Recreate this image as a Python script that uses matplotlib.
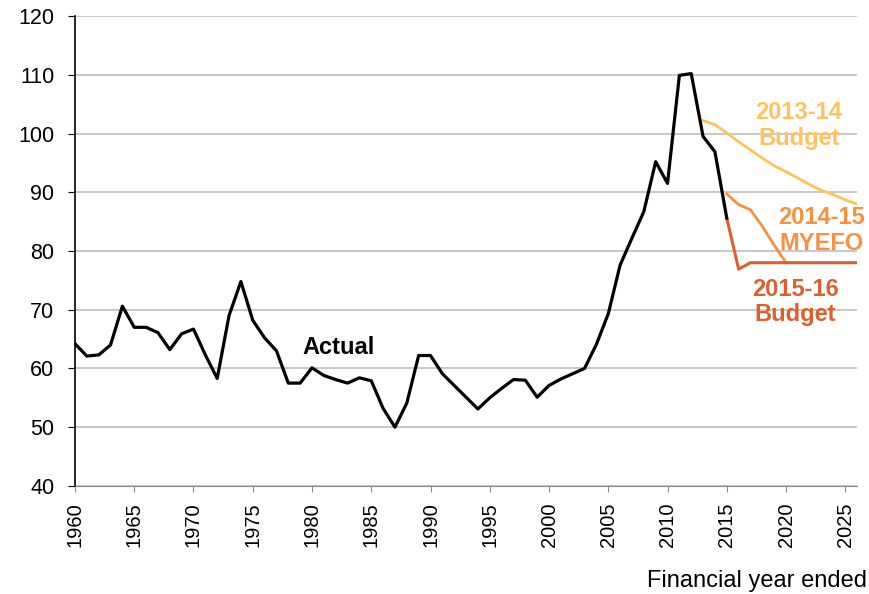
import matplotlib
matplotlib.use('Agg')
from matplotlib import pyplot as plt

plt.rcParams['font.family'] = ['Liberation Sans', 'DejaVu Sans']

# actual series, 1960-2015
actual_years = list(range(1960, 2016))
actual = [64.2, 62.1, 62.3, 64.0, 70.6, 67.0, 67.0, 66.1, 63.2, 65.9,
          66.7, 62.3, 58.3, 69.0, 74.8, 68.2, 65.2, 63.0, 57.5, 57.5,
          60.1, 58.8, 58.1, 57.5, 58.4, 57.9, 53.2, 50.0, 54.1, 62.2,
          62.2, 59.1, 57.1, 55.1, 53.1, 55.0, 56.6, 58.1, 58.0, 55.1,
          57.1, 58.2, 59.1, 60.0, 64.1, 69.3, 77.6, 82.2, 86.7, 95.2,
          91.5, 109.9, 110.2, 99.5, 96.9, 85.6]

budget_1314_years = list(range(2013, 2027))
budget_1314 = [102.2, 101.5, 100.1, 98.6, 97.2, 95.8, 94.5, 93.5, 92.4,
               91.3, 90.3, 89.6, 88.7, 88.0]

myefo_1415_years = list(range(2015, 2021))
myefo_1415 = [89.7, 87.9, 87.0, 84.2, 81.0, 78.0]

budget_1516_years = list(range(2015, 2027))
budget_1516 = [85.6, 76.9, 78.0, 78.0, 78.0, 78.0, 78.0, 78.0, 78.0,
               78.0, 78.0, 78.0]

c_1314 = '#FFC35A'
c_1415 = '#F7913D'
c_1516 = '#DD5F2B'

fig = plt.figure(figsize=(8.7, 5.94), dpi=100)
ax = fig.add_axes([0.0862, 0.182, 0.899, 0.791])

ax.plot(budget_1314_years, budget_1314, color=c_1314, lw=2.0)
ax.plot(myefo_1415_years, myefo_1415, color=c_1415, lw=2.0)
ax.plot(budget_1516_years, budget_1516, color=c_1516, lw=2.2)
ax.plot(actual_years, actual, color='black', lw=2.3)

ax.set_xlim(1960, 2026)
ax.set_ylim(40, 120)
ax.set_yticks(range(40, 121, 10))
ax.set_xticks(range(1960, 2026, 5))
ax.set_xticklabels([str(y) for y in range(1960, 2026, 5)], rotation=90)
ax.tick_params(axis='y', labelsize=15.5, direction='out', length=5, pad=10)
ax.tick_params(axis='x', labelsize=14.5, direction='out', length=4, pad=8,
               color='#888888')

ax.grid(axis='y', color='#BFBFBF', lw=1.2)
ax.set_axisbelow(True)
for s in ['top', 'right']:
    ax.spines[s].set_visible(False)
ax.spines['left'].set_color('black')
ax.spines['left'].set_linewidth(1.2)
ax.spines['bottom'].set_color('#888888')

ax.text(1982.2, 63.5, 'Actual', fontsize=17, fontweight='bold', ha='center', va='center')
ax.text(2021.1, 101.4, '2013-14\nBudget', fontsize=17, fontweight='bold', ha='center',
        va='center', color=c_1314, linespacing=1.15)
ax.text(2023.0, 83.5, '2014-15\nMYEFO', fontsize=17, fontweight='bold', ha='center',
        va='center', color=c_1415, linespacing=1.15)
ax.text(2020.8, 71.3, '2015-16\nBudget', fontsize=17, fontweight='bold', ha='center',
        va='center', color=c_1516, linespacing=1.15)

fig.text(0.997, 0.004, 'Financial year ended', fontsize=17, ha='right', va='bottom')

fig.savefig('out.png', dpi=100)
